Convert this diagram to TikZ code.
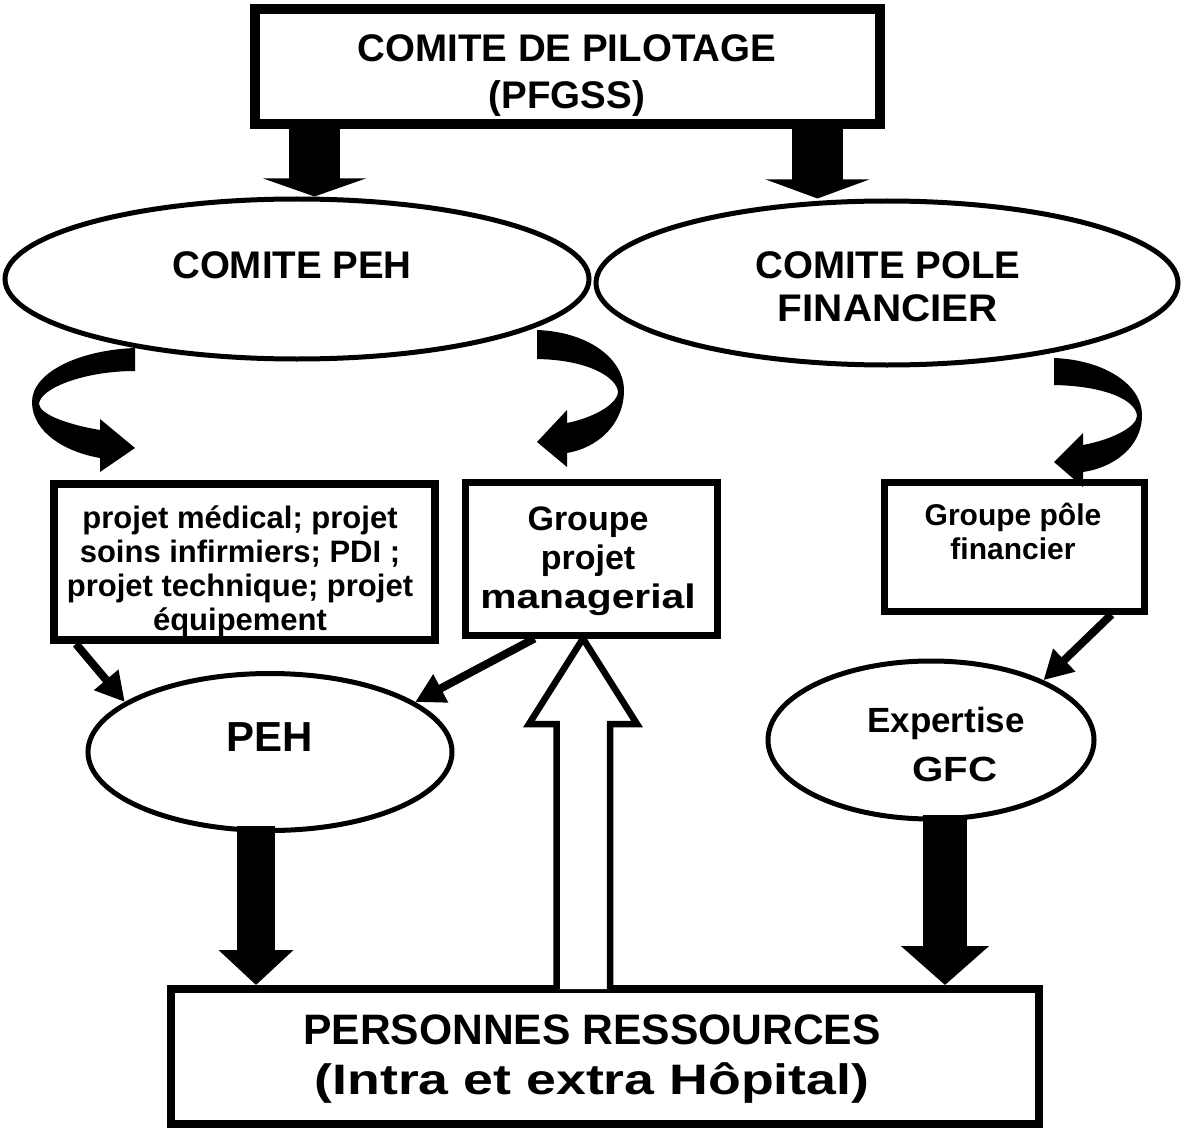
\documentclass[tikz,border=0pt]{standalone}
\usepackage{fontspec}
\setmainfont{Liberation Sans}
\usetikzlibrary{shapes.geometric,arrows.meta,calc}

\begin{document}
\begin{tikzpicture}[x=1pt,y=-1pt,
  frame/.style={draw, rectangle, line width=#1, inner sep=0pt},
  oval/.style={draw, ellipse, line width=5pt, inner sep=0pt},
  lbl/.style 2 args={font=\bfseries\fontsize{#1}{#2}\selectfont, align=center, inner sep=0pt},
  thinarrow/.style={line width=8pt, -{Triangle[length=29pt,width=30pt]}},
  fatarrow/.style n args={3}{line width=#1, -{Triangle[length=#2,width=#3]}},
  curlarrow/.style={fill=black, draw=none}
]
\useasboundingbox (0,0) rectangle (1186,1134);

% ---- boxes ----
\node[frame=10pt, minimum width=625pt, minimum height=115pt] (pilot) at (567.5,66.5) {};
\node[lbl={38.5}{47}] (tpilot) at (567,76) {COMITE DE PILOTAGE\\(PFGSS)};

\node[frame=8pt, minimum width=381pt, minimum height=156pt] (projets) at (244.5,562) {};
\node[lbl={31}{34}] (tprojets) at (240,571) {projet médical; projet\\soins infirmiers; PDI ;\\projet technique; projet\\équipement};

\node[frame=7pt, minimum width=252pt, minimum height=153pt] (manag) at (591,558.5) {};
\node[lbl={34}{39}] (tmanag) at (588,561) {Groupe\\projet\\\scalebox{1.2}[1]{managerial}};

\node[frame=7pt, minimum width=260pt, minimum height=129pt] (gpole) at (1014,546.5) {};
\node[lbl={30}{34}] (tgpole) at (1013,531) {Groupe pôle\\financier};

\node[frame=8pt, minimum width=868pt, minimum height=135pt] (resso) at (605,1056.5) {};
\node[lbl={42.6}{50}] (tresso) at (592,1059) {PERSONNES RESSOURCES\\\scalebox{1.26}[1]{(Intra et extra Hôpital)}};

% ---- ellipses ----
\node[oval, minimum width=584pt, minimum height=160pt] (cpeh) at (297,279) {};
\node[lbl={38.5}{43}] (tcpeh) at (292,265) {COMITE PEH};

\node[oval, minimum width=582pt, minimum height=164pt] (cpole) at (887,283) {};
\node[lbl={38.5}{43}] (tcpole) at (888,287) {COMITE POLE\\\scalebox{1.05}[1]{FINANCIER}};

\node[oval, minimum width=364pt, minimum height=157pt] (peh) at (270,752) {};
\node[lbl={42}{42}] (tpeh) at (270,737) {PEH};

\node[oval, minimum width=326pt, minimum height=158pt] (gfc) at (931,740) {};
\node[lbl={35}{49}] (tgfc) at (946,744) {Expertise\\\hspace*{18pt}\scalebox{1.15}[1]{GFC}};

% ---- broad arrows from the steering committee ----
\coordinate (p1) at (314.5,124);
\coordinate (p2) at (817.5,124);
\draw[fatarrow={51pt}{18pt}{102pt}] (p1) -- (p1 |- cpeh.north);
\draw[fatarrow={51pt}{19pt}{103pt}] (p2) -- (p2 |- cpole.north);

% ---- curved arrows ----
\fill[curlarrow] (135,348) .. controls (80,350) and (32,372) .. (32,402)
  .. controls (32,432) and (65,452) .. (100,458)
  -- (100,472) -- (135,448) -- (100,419) -- (100,430)
  .. controls (70,425) and (40,415) .. (39,404)
  .. controls (40,388) and (85,371) .. (135,371) -- cycle;
\fill[curlarrow] (537,330) .. controls (590,332) and (624,360) .. (624,390)
  .. controls (624,425) and (597,448) .. (567,453)
  -- (567,467) -- (537,442) -- (567,410) -- (567,423)
  .. controls (592,418) and (617,405) .. (618,392)
  .. controls (617,378) and (590,360) .. (537,359) -- cycle;
\fill[curlarrow] (1054,358) .. controls (1105,360) and (1142,385) .. (1142,415)
  .. controls (1142,448) and (1112,468) .. (1083,472)
  -- (1083,487) -- (1054,462) -- (1083,433) -- (1083,445)
  .. controls (1110,440) and (1136,428) .. (1137,416)
  .. controls (1136,400) and (1105,386) .. (1054,385) -- cycle;

% ---- thin arrows ----
\draw[thinarrow] ($(projets.south west)+(26,0)$) -- (peh.161);
\draw[thinarrow] ($(manag.south west)+(73,0)$) -- (peh.19);
\draw[thinarrow] ($(gpole.south east)+(-36,0)$) -- (gfc.28);

% ---- broad arrows down to the resource people ----
\coordinate (d1) at (256,826);
\coordinate (d2) at (945,815);
\draw[fatarrow={38pt}{35pt}{73pt}] (d1) -- (d1 |- resso.north);
\draw[fatarrow={44pt}{39pt}{86pt}] (d2) -- (d2 |- resso.north);

% ---- hollow arrow up to the managerial group ----
\coordinate (hb) at (583,989);
\draw[line width=6.5pt, line join=miter, fill=white]
  ($(hb)+(-26.5,0)$) -- ($(hb)+(-26.5,-265)$) -- ($(hb)+(-54,-265)$)
  -- (hb |- manag.south) -- ($(hb)+(54,-265)$) -- ($(hb)+(27,-265)$) -- ($(hb)+(27,0)$);
\end{tikzpicture}
\end{document}
